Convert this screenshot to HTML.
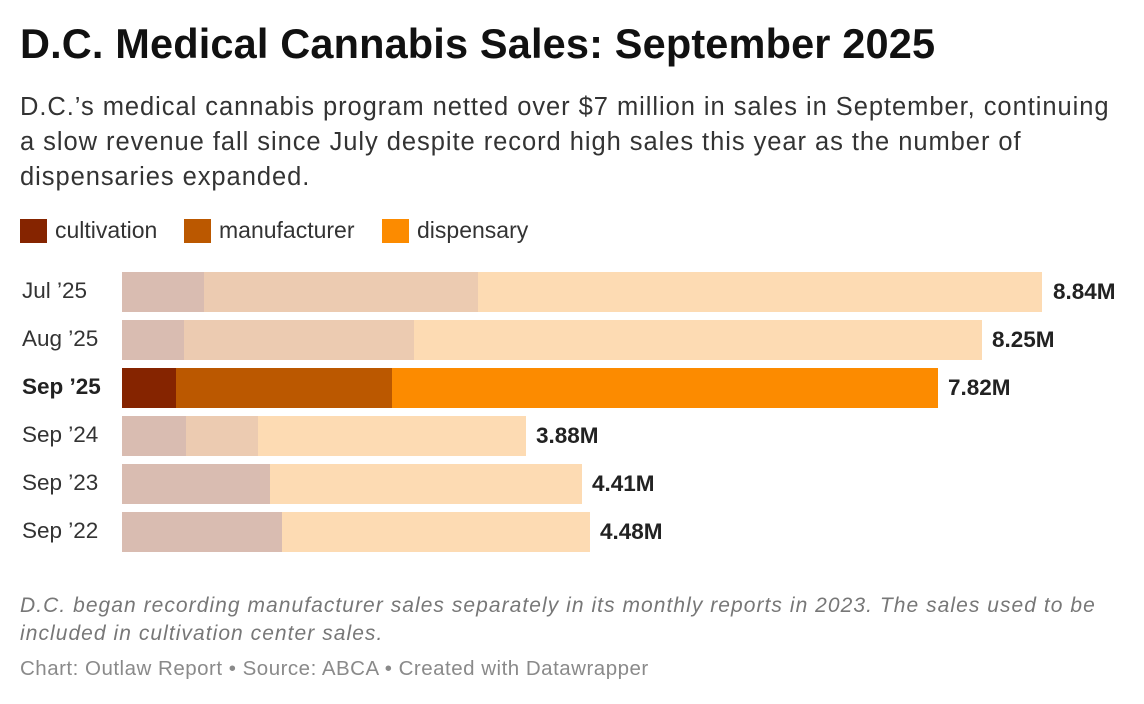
<!DOCTYPE html>
<html><head><style>
body{margin:0;width:1144px;height:704px;background:#fff;font-family:"Liberation Sans",sans-serif;position:relative;overflow:hidden;color:#222}
.a{position:absolute;white-space:nowrap}
.t{left:20px;top:20px;font-size:41.5px;font-weight:bold;color:#111;letter-spacing:0.15px}
.s{left:20px;top:90px;font-size:25.5px;line-height:35px;color:#333;letter-spacing:0.95px}
.lg{top:217px;font-size:23px;color:#333}
.sw{position:absolute;top:219px;width:27px;height:24px}
.lab{left:22px;font-size:22.5px;color:#333}
.bar{position:absolute;height:40px}
.v{font-size:22.5px;font-weight:bold;color:#222}
.n{left:20px;font-size:21px;font-style:italic;color:#777;line-height:28px;top:592px;letter-spacing:1.05px}
.c{left:20px;top:657px;font-size:20.5px;color:#8a8a8a;letter-spacing:0.5px}
</style></head><body>
<div class="a t">D.C. Medical Cannabis Sales: September 2025</div>
<div class="a s">D.C.’s medical cannabis program netted over $7 million in sales in September, continuing<br>a slow revenue fall since July despite record high sales this year as the number of<br>dispensaries expanded.</div>
<div class="sw" style="left:20px;background:#852400"></div><div class="a lg" style="left:55px">cultivation</div>
<div class="sw" style="left:184px;background:#bb5800"></div><div class="a lg" style="left:219px">manufacturer</div>
<div class="sw" style="left:382px;background:#fc8b00"></div><div class="a lg" style="left:417px">dispensary</div>

<div class="a lab" style="top:278px">Jul ’25</div>
<div class="bar" style="top:272px;left:122px;width:82px;background:#d9bcb1"></div>
<div class="bar" style="top:272px;left:204px;width:274px;background:#eccbb1"></div>
<div class="bar" style="top:272px;left:478px;width:564px;background:#fddbb3"></div>
<div class="a v" style="left:1053px;top:279px">8.84M</div>

<div class="a lab" style="top:326px">Aug ’25</div>
<div class="bar" style="top:320px;left:122px;width:62px;background:#d9bcb1"></div>
<div class="bar" style="top:320px;left:184px;width:230px;background:#eccbb1"></div>
<div class="bar" style="top:320px;left:414px;width:568px;background:#fddbb3"></div>
<div class="a v" style="left:992px;top:327px">8.25M</div>

<div class="a lab" style="top:374px;font-weight:bold;color:#222">Sep ’25</div>
<div class="bar" style="top:368px;left:122px;width:54px;background:#852400"></div>
<div class="bar" style="top:368px;left:176px;width:216px;background:#bb5800"></div>
<div class="bar" style="top:368px;left:392px;width:546px;background:#fc8b00"></div>
<div class="a v" style="left:948px;top:375px">7.82M</div>

<div class="a lab" style="top:422px">Sep ’24</div>
<div class="bar" style="top:416px;left:122px;width:64px;background:#d9bcb1"></div>
<div class="bar" style="top:416px;left:186px;width:72px;background:#eccbb1"></div>
<div class="bar" style="top:416px;left:258px;width:268px;background:#fddbb3"></div>
<div class="a v" style="left:536px;top:423px">3.88M</div>

<div class="a lab" style="top:470px">Sep ’23</div>
<div class="bar" style="top:464px;left:122px;width:148px;background:#d9bcb1"></div>
<div class="bar" style="top:464px;left:270px;width:312px;background:#fddbb3"></div>
<div class="a v" style="left:592px;top:471px">4.41M</div>

<div class="a lab" style="top:518px">Sep ’22</div>
<div class="bar" style="top:512px;left:122px;width:160px;background:#d9bcb1"></div>
<div class="bar" style="top:512px;left:282px;width:308px;background:#fddbb3"></div>
<div class="a v" style="left:600px;top:519px">4.48M</div>

<div class="a n">D.C. began recording manufacturer sales separately in its monthly reports in 2023. The sales used to be<br>included in cultivation center sales.</div>
<div class="a c">Chart: Outlaw Report • Source: ABCA • Created with Datawrapper</div>
</body></html>
